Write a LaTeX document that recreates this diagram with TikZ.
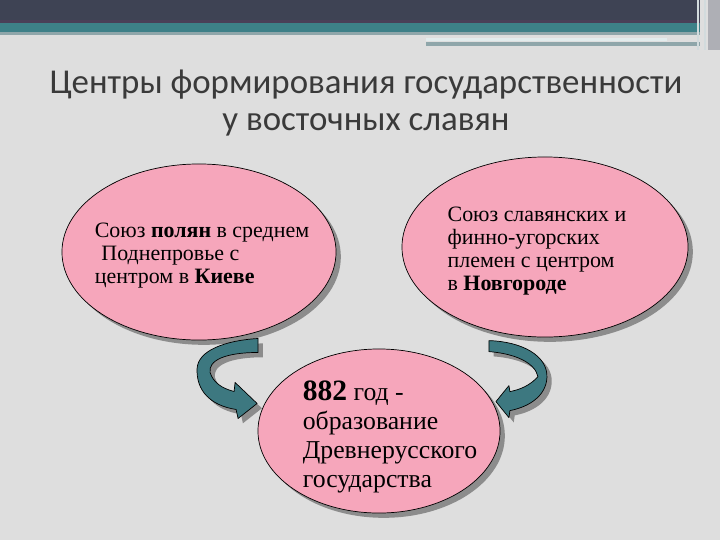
\documentclass[tikz,border=0pt]{standalone}
\usepackage{fontspec}
\setmainfont{Liberation Serif}
\newfontfamily\titlefont{Carlito}
\usepackage{tikz}
\usetikzlibrary{calc,shapes,shadows}
\definecolor{slidegray}{HTML}{DEDEDE}
\definecolor{bardark}{HTML}{3E4354}
\definecolor{barpurple}{HTML}{4A3F58}
\definecolor{barteal}{HTML}{3E8088}
\definecolor{barline}{HTML}{8FA6AA}
\definecolor{blobpink}{HTML}{F6A6BB}
\definecolor{arrowteal}{HTML}{3D7880}
\definecolor{shadowgray}{HTML}{8C8C8C}
\definecolor{titlegray}{HTML}{3A3A3A}
\tikzstyle{pinkblob}=[ellipse,draw=black,fill=blobpink,inner sep=0pt,line width=0.5pt,
                      drop shadow={shadow xshift=0.12cm,shadow yshift=-0.12cm,fill=shadowgray,opacity=1}]
\tikzstyle{blobtext}=[align=left,inner sep=0pt,font=\fontsize{15.6}{16.4}\selectfont]
\tikzstyle{titletext}=[inner sep=0pt,text=titlegray,font=\titlefont\fontsize{24.8}{26}\selectfont]
\tikzstyle{bentarrow}=[fill=arrowteal,draw=black,line width=0.5pt,line join=round,
                      drop shadow={shadow xshift=0.12cm,shadow yshift=-0.12cm,fill=shadowgray,opacity=1}]

\begin{document}
\begin{tikzpicture}[x=0.025cm,y=-0.025cm]
    \fill[slidegray] (0,0) rectangle (720,540);
    \useasboundingbox (0,0) rectangle (720,540);
    % top bar
    \fill[bardark] (0,0) rectangle (700,20);
    \fill[barpurple] (0,20) rectangle (700,23);
    \fill[barteal] (0,23) rectangle (700,32);
    \fill[barline] (0,32) rectangle (700,35);
    \fill[white!85!barteal] (426,38) rectangle (667,41);
    \fill[barline] (426,42) rectangle (700,46);
    \fill[bardark!30!slidegray] (708,0) rectangle (720,50);
    \draw[white!60!barline,line width=1pt] (698,0) -- (698,50) (705,0) -- (705,50);

    \node [titletext,anchor=base] (titleA) at (366,93) {Центры формирования государственности};
    \node [titletext,anchor=base] (titleB) at (366,130) {у восточных славян};

    \node [pinkblob,minimum width=6.85cm,minimum height=4.4cm] (kiev) at (199,252) {};
    \node [pinkblob,minimum width=7.15cm,minimum height=4.5cm] (novgorod) at (545,247) {};
    \node [pinkblob,minimum width=6.05cm,minimum height=4.1cm] (rus) at (379,431) {};

    \coordinate (lefttip) at ($(rus.167)+(-7,-1)$);
    \coordinate (righttip) at ($(rus.14)+(3,-1)$);
    \filldraw[bentarrow,shift={(lefttip)}] (1,-65) -- (1,-51)
        .. controls (-32,-51) and (-49,-43) .. (-47,-31)
        .. controls (-44,-21) and (-35,-15) .. (-23,-12) -- (-22,-21) -- (0,0) -- (-19,15) -- (-21,6)
        .. controls (-47,2) and (-61,-13) .. (-60,-35)
        .. controls (-59,-53) and (-32,-63) .. (1,-65) -- cycle;
    \filldraw[bentarrow,shift={(righttip)}] (-7,-61) -- (-7,-50)
        .. controls (19,-48) and (39,-39) .. (42,-25)
        .. controls (34,-16) and (24,-12) .. (14,-10) -- (13,-16) -- (0,0) -- (13,16) -- (14,9)
        .. controls (34,5) and (50,-6) .. (51,-24)
        .. controls (52,-46) and (26,-60) .. (-7,-61) -- cycle;

    \node [blobtext] (kievtext) at ($(kiev)+(3,4)$) {Союз \textbf{полян} в среднем\\\hspace{0.3em}Поднепровье с\\центром в \textbf{Киеве}};
    \node [blobtext] (novgorodtext) at ($(novgorod)+(-8,4)$) {Союз славянских и\\финно-угорских\\племен с центром\\в \textbf{Новгороде}};
    \node [blobtext,font=\fontsize{18.3}{20.6}\selectfont] (rustext) at ($(rus)+(11,6)$) {{\fontsize{21}{21}\selectfont\textbf{882}} год -\\образование\\Древнерусского\\государства};
\end{tikzpicture}
\end{document}
